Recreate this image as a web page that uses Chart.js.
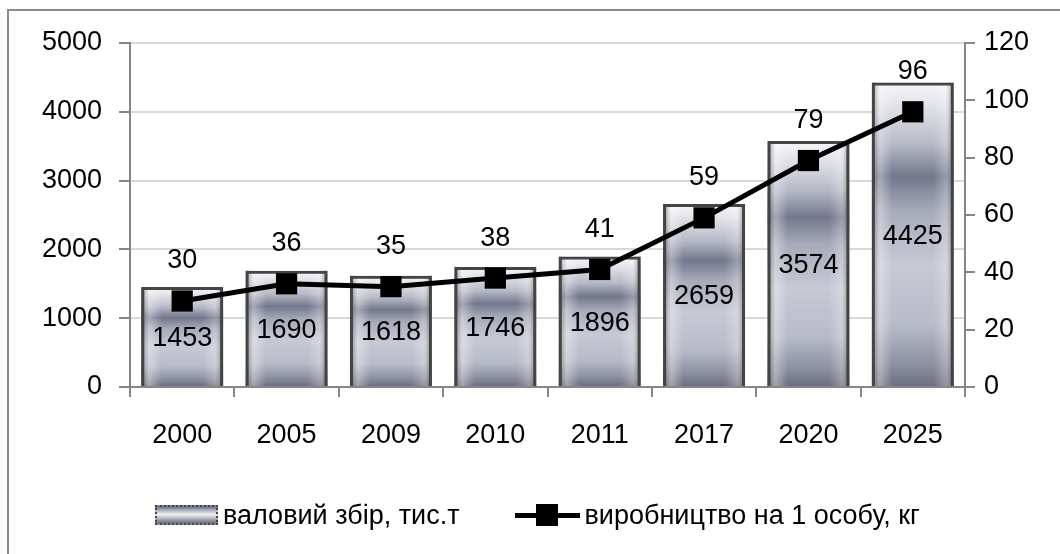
<!DOCTYPE html>
<html lang="uk">
<head>
<meta charset="UTF-8">
<title>Валовий збір</title>
<script src="https://cdn.jsdelivr.net/npm/chart.js"></script>
<style>
  * { margin: 0; padding: 0; box-sizing: border-box; }
  body { width: 1060px; height: 554px; background: #fff; overflow: hidden; position: relative;
         font-family: 'Liberation Sans', Arial, sans-serif; }
  .frame { position: absolute; left: 7px; top: 9px; width: 1100px; height: 600px;
           border-left: 2px solid #8c8c8c; border-top: 2px solid #8c8c8c; pointer-events: none; }
  .wrap { position: absolute; left: 0; top: 0; width: 1060px; height: 554px; }
  .legend { position: absolute; top: 503px; left: 155px; height: 24px; display: flex; align-items: center;
            font-size: 27px; color: #000; white-space: nowrap; }
  .sw-bar { width: 63px; height: 20px; border: 2px dotted #444;
            background: linear-gradient(to bottom, #6f7282 0%, #b9bcc9 25%, #eeeff3 45%, #d0d2da 60%, #8d90a0 85%, #6f7282 100%); }
  .sw-line { position: relative; width: 65px; height: 22px; }
  .sw-line::before { content: ''; position: absolute; left: 0; right: 0; top: 9px; height: 5px; background: #000; }
  .sw-line::after { content: ''; position: absolute; left: 21px; top: 0; width: 22px; height: 22px; background: #000; }
  .lg-text { margin-left: 5px; }
</style>
</head>
<body>
<div class="wrap"><canvas id="chart" width="1060" height="554"></canvas></div>
<div class="frame"></div>
<div class="legend">
  <span class="sw-bar"></span><span class="lg-text" id="lg1"></span>
  <span class="sw-line" style="margin-left:55px"></span><span class="lg-text" id="lg2"></span>
</div>
<script>
const years = ['2000', '2005', '2009', '2010', '2011', '2017', '2020', '2025'];
const harvest = [1453, 1690, 1618, 1746, 1896, 2659, 3574, 4425];
const perCapita = [30, 36, 35, 38, 41, 59, 79, 96];
const harvestLabel = 'валовий збір, тис.т';
const perCapitaLabel = 'виробництво на 1 особу, кг';

document.getElementById('lg1').textContent = harvestLabel;
document.getElementById('lg2').textContent = perCapitaLabel;

const FONT = { family: "'Liberation Sans', Arial, sans-serif", size: 27 };

// metallic fill under the bar borders
const metalBars = {
  id: 'metalBars',
  beforeDatasetDraw(chart, args) {
    if (args.index !== 0) return;
    const ctx = chart.ctx;
    args.meta.data.forEach(bar => {
      const { x, y, base, width } = bar.getProps(['x', 'y', 'base', 'width'], true);
      const l = x - width / 2, t = y, h = base - y;
      let g = ctx.createLinearGradient(0, t, 0, base);
      g.addColorStop(0, '#f6f6f8');
      g.addColorStop(0.07, '#e4e5eb');
      g.addColorStop(0.2, '#b7bac7');
      g.addColorStop(0.31, '#73778c');
      g.addColorStop(0.42, '#a6aab9');
      g.addColorStop(0.6, '#c7cad5');
      g.addColorStop(0.8, '#b8bbc8');
      g.addColorStop(0.93, '#8c8fa0');
      g.addColorStop(1, '#6c6f80');
      ctx.save();
      ctx.fillStyle = g;
      ctx.fillRect(l, t, width, h);
      let hg = ctx.createLinearGradient(l, 0, l + width, 0);
      hg.addColorStop(0, 'rgba(70,70,80,0.6)');
      hg.addColorStop(0.1, 'rgba(255,255,255,0.35)');
      hg.addColorStop(0.25, 'rgba(255,255,255,0)');
      hg.addColorStop(0.75, 'rgba(255,255,255,0)');
      hg.addColorStop(0.9, 'rgba(255,255,255,0.25)');
      hg.addColorStop(1, 'rgba(70,70,80,0.6)');
      ctx.fillStyle = hg;
      ctx.fillRect(l, t, width, h);
      ctx.restore();
    });
  }
};

const valueLabels = {
  id: 'valueLabels',
  afterDatasetsDraw(chart) {
    const ctx = chart.ctx;
    ctx.save();
    ctx.font = FONT.size + 'px ' + FONT.family;
    ctx.fillStyle = '#000';
    ctx.textAlign = 'center';
    ctx.textBaseline = 'middle';
    chart.getDatasetMeta(0).data.forEach((bar, i) => {
      ctx.fillText(harvest[i], bar.x, (bar.y + bar.base) / 2 + 2);
    });
    chart.getDatasetMeta(1).data.forEach((pt, i) => {
      ctx.fillText(perCapita[i], pt.x, pt.y - 40);
    });
    ctx.restore();
  }
};

const plain = v => String(v);

new Chart(document.getElementById('chart'), {
  data: {
    labels: years,
    datasets: [
      {
        type: 'bar',
        label: harvestLabel,
        data: harvest,
        yAxisID: 'y',
        backgroundColor: 'rgba(0,0,0,0)',
        borderColor: '#444',
        borderWidth: 3,
        barPercentage: 0.785,
        categoryPercentage: 1,
        order: 2
      },
      {
        type: 'line',
        label: perCapitaLabel,
        data: perCapita,
        yAxisID: 'y1',
        borderColor: '#000',
        backgroundColor: '#000',
        borderWidth: 5,
        pointStyle: 'rect',
        pointRadius: 15,
        pointBorderWidth: 0,
        tension: 0,
        order: 1
      }
    ]
  },
  options: {
    responsive: false,
    animation: false,
    layout: { padding: { top: 43, bottom: 92, left: 0, right: 0 } },
    plugins: { legend: { display: false }, tooltip: { enabled: false } },
    scales: {
      x: {
        afterFit: s => { s.height = 75; },
        grid: { drawOnChartArea: false, tickLength: 10, tickColor: '#868686', lineWidth: 2, offset: true },
        border: { color: '#868686', width: 2 },
        ticks: { color: '#000', font: FONT, padding: 22 }
      },
      y: {
        position: 'left',
        min: 0, max: 5000,
        afterFit: s => { s.width = 130; },
        grid: { color: '#d9d9d9', lineWidth: 2, tickLength: 11, tickColor: '#868686' },
        border: { color: '#868686', width: 2 },
        ticks: { stepSize: 1000, color: '#000', font: FONT, padding: 17, callback: plain }
      },
      y1: {
        position: 'right',
        min: 0, max: 120,
        afterFit: s => { s.width = 95; },
        grid: { drawOnChartArea: false, tickLength: 10, tickColor: '#868686', lineWidth: 2 },
        border: { color: '#868686', width: 2 },
        ticks: { stepSize: 20, color: '#000', font: FONT, padding: 9, callback: plain }
      }
    }
  },
  plugins: [metalBars, valueLabels]
});
</script>
</body>
</html>
